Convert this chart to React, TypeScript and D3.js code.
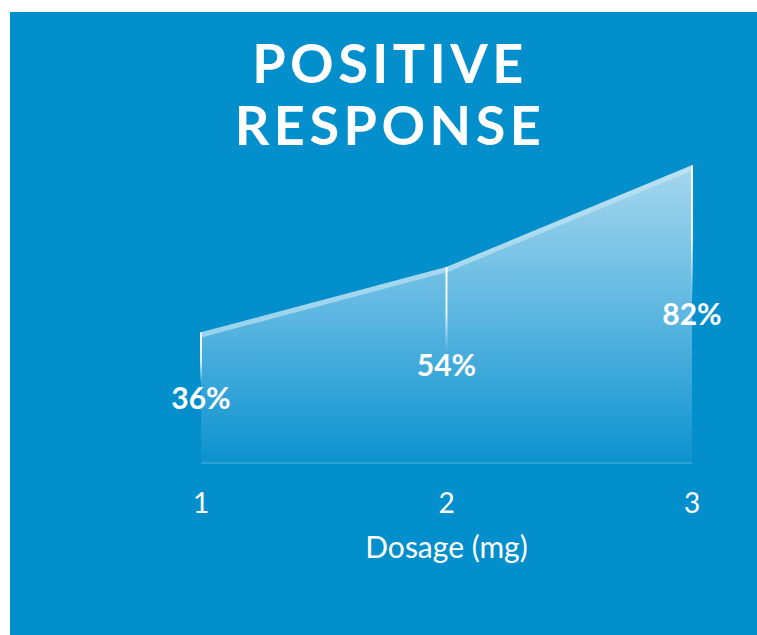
import React from "react";
import * as d3 from "d3";

const dosages = [1, 2, 3];
const responsePct = [36, 54, 82];
const tickLabels = ["1", "2", "3"];
const titleLines = ["POSITIVE", "RESPONSE"];
const axisTitle = "Dosage (mg)";

const W = 757;
const H = 635;
const BG = "#038fcc";

export default function App() {
  const x = d3.scaleLinear().domain([1, 3]).range([201, 692]);
  const y = d3.scaleLinear().domain([0, 100]).range([463, 100]);
  const pts = dosages.map((d, i) => ({ d, v: responsePct[i] }));

  const area = d3
    .area<{ d: number; v: number }>()
    .x((p) => x(p.d))
    .y0(y(0))
    .y1((p) => y(p.v));
  const line = d3
    .line<{ d: number; v: number }>()
    .x((p) => x(p.d))
    .y((p) => y(p.v));

  const font = "Lato, 'Open Sans', sans-serif";

  return (
    <svg
      width={W}
      height={H}
      style={{ position: "absolute", left: 0, top: 0 }}
      viewBox={`0 0 ${W} ${H}`}
    >
      <defs>
        <linearGradient
          id="fillGrad"
          gradientUnits="userSpaceOnUse"
          x1="0"
          y1={y(82)}
          x2="0"
          y2={y(0)}
        >
          <stop offset="0" stopColor="#a6d7ed" />
          <stop offset="0.5" stopColor="#5db7e1" />
          <stop offset="1" stopColor="#0c92cf" />
        </linearGradient>
        {pts.map((p, i) => (
          <linearGradient
            key={i}
            id={`vline${i}`}
            gradientUnits="userSpaceOnUse"
            x1="0"
            y1={y(p.v)}
            x2="0"
            y2={(y(p.v) + y(0)) / 2 - 14}
          >
            <stop offset="0" stopColor="#ffffff" stopOpacity="1" />
            <stop offset="0.55" stopColor="#ffffff" stopOpacity="0.85" />
            <stop offset="1" stopColor="#ffffff" stopOpacity="0" />
          </linearGradient>
        ))}
        <clipPath id="areaClip">
          <path d={area(pts) || ""} />
        </clipPath>
      </defs>

      <rect x={10} y={12} width={W - 10} height={H - 12} fill={BG} />

      {titleLines.map((t, i) => (
        <text
          key={t}
          x={390}
          y={83 + i * 62}
          textAnchor="middle"
          fill="#ffffff"
          fontFamily={font}
          fontWeight={700}
          fontSize={54}
          letterSpacing={4.5}
        >
          {t}
        </text>
      ))}

      <path d={area(pts) || ""} fill="url(#fillGrad)" />
      {/* light band running along the top edge */}
      <path
        d={line(pts) || ""}
        fill="none"
        stroke="#c8e7f5"
        strokeWidth={10}
        clipPath="url(#areaClip)"
        opacity={0.6}
      />
      {/* baseline */}
      <line
        x1={x(1)}
        x2={x(3)}
        y1={y(0)}
        y2={y(0)}
        stroke="#2ea2d8"
        strokeWidth={2}
      />

      {pts.map((p, i) => (
        <rect
          key={i}
          x={x(p.d) - 1}
          y={y(p.v)}
          width={2}
          height={(y(p.v) + y(0)) / 2 - 14 - y(p.v)}
          fill={`url(#vline${i})`}
        />
      ))}

      {pts.map((p, i) => (
        <text
          key={i}
          x={x(p.d)}
          y={(y(p.v) + y(0)) / 2 + 11}
          textAnchor="middle"
          fill="#ffffff"
          fontFamily={font}
          fontWeight={700}
          fontSize={30}
        >
          {p.v}%
        </text>
      ))}

      {dosages.map((d, i) => (
        <text
          key={d}
          x={x(d)}
          y={513}
          textAnchor="middle"
          fill="#ffffff"
          fontFamily={font}
          fontSize={28}
        >
          {tickLabels[i]}
        </text>
      ))}

      <text
        x={x(2)}
        y={558}
        textAnchor="middle"
        fill="#ffffff"
        fontFamily={font}
        fontSize={30}
      >
        {axisTitle}
      </text>
    </svg>
  );
}
